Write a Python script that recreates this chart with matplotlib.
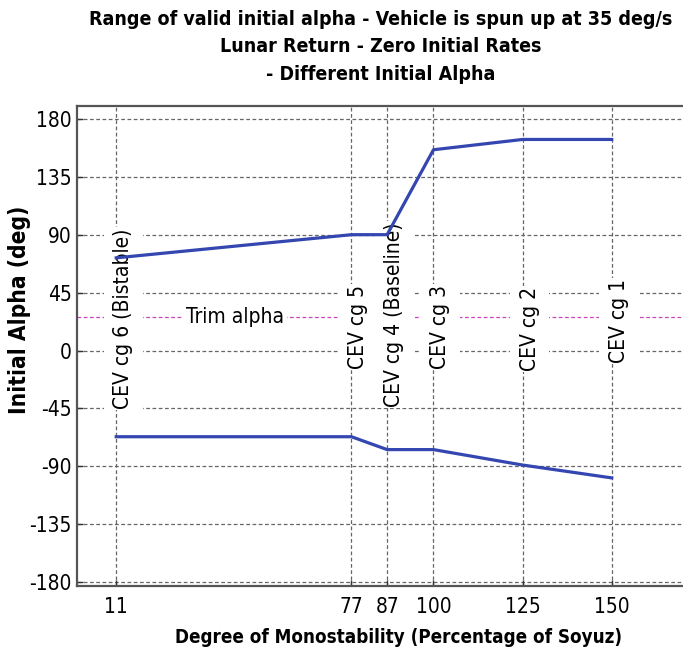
import matplotlib

matplotlib.use("Agg")
import matplotlib.pyplot as plt
from matplotlib.path import Path

plt.rcParams["font.family"] = ["DejaVu Sans"]
plt.rcParams["font.stretch"] = "condensed"
plt.rcParams["axes.unicode_minus"] = False

# CEV cg cases: degree of monostability (% of Soyuz)
monostability = [11, 77, 87, 100, 125, 150]
# valid initial alpha range (deg)
alpha_upper = [72, 90, 90, 156, 164, 164]
alpha_lower = [-67, -67, -77, -77, -89, -99]
trim_alpha = 26

case_labels = [
    "CEV cg 6 (Bistable)",
    "CEV cg 5",
    "CEV cg 4 (Baseline)",
    "CEV cg 3",
    "CEV cg 2",
    "CEV cg 1",
]
label_mid = [25, 18, 28, 18, 17, 23]
yticks = [-180, -135, -90, -45, 0, 45, 90, 135, 180]

title = ("Range of valid initial alpha - Vehicle is spun up at 35 deg/s\n"
         "Lunar Return - Zero Initial Rates\n"
         "- Different Initial Alpha")


def label_box(x0, y0, width, height, mutation_size):
    """Square box, tight along the text and wide across it."""
    px = 0.05 * mutation_size
    py = 0.45 * mutation_size
    x0, y0 = x0 - px, y0 - py
    x1, y1 = x0 + width + 2 * px, y0 + height + 2 * py
    return Path([(x0, y0), (x1, y0), (x1, y1), (x0, y1), (x0, y0)], closed=True)


fig = plt.figure(figsize=(6.83, 6.57), dpi=100)
ax = fig.add_axes([77 / 683, 71 / 657, 606 / 683, 480 / 657])

grid_kw = dict(color="#666666", lw=0.9, dashes=(3, 2), zorder=0.5)
for y in yticks:
    ax.axhline(y, **grid_kw)
for x in monostability:
    ax.axvline(x, **grid_kw)

ax.axhline(trim_alpha, color="#cc44bb", lw=0.9, dashes=(3, 2), zorder=1)
ax.text(30.5, trim_alpha, "Trim alpha", fontsize=15, ha="left", va="center",
        zorder=3, bbox=dict(boxstyle="square,pad=0.15", fc="white", ec="none"))

for x, txt, ym in zip(monostability, case_labels, label_mid):
    ax.annotate(txt, (x, ym), xytext=(5, 0), textcoords="offset points",
                rotation=90, ha="center", va="center", fontsize=15, zorder=3,
                bbox=dict(boxstyle=label_box, fc="white", ec="none"))

ax.plot(monostability, alpha_upper, color="#3446b0", lw=2.3, zorder=4)
ax.plot(monostability, alpha_lower, color="#3446b0", lw=2.3, zorder=4)

ax.set_xlim(0, 170)
ax.set_ylim(-183, 190)
ax.set_xticks(monostability)
ax.set_yticks(yticks)
ax.tick_params(direction="in", length=4, width=1, labelsize=15,
               color="#333333")
ax.tick_params(axis="y", pad=4)
ax.tick_params(axis="x", pad=8)
for side in ("left", "bottom", "top"):
    ax.spines[side].set_linewidth(1.6)
    ax.spines[side].set_color("#555555")
ax.spines["right"].set_visible(False)

ax.set_xlabel("Degree of Monostability (Percentage of Soyuz)",
              fontsize=13.5, fontweight="bold")
ax.xaxis.label.set_va("top")
ax.xaxis.set_label_coords((399 - 77) / 606, -(628 - 586) / 480)
ax.set_ylabel("Initial Alpha (deg)", fontsize=16.3, fontweight="bold")
ax.yaxis.set_label_coords((31 - 77) / 606, (586 - 310) / 480)

fig.text(381 / 683, 1 - 10 / 657, title, ha="center", va="top",
         fontsize=14, fontweight="bold", linespacing=1.55)

fig.savefig("out.png", dpi=100)
